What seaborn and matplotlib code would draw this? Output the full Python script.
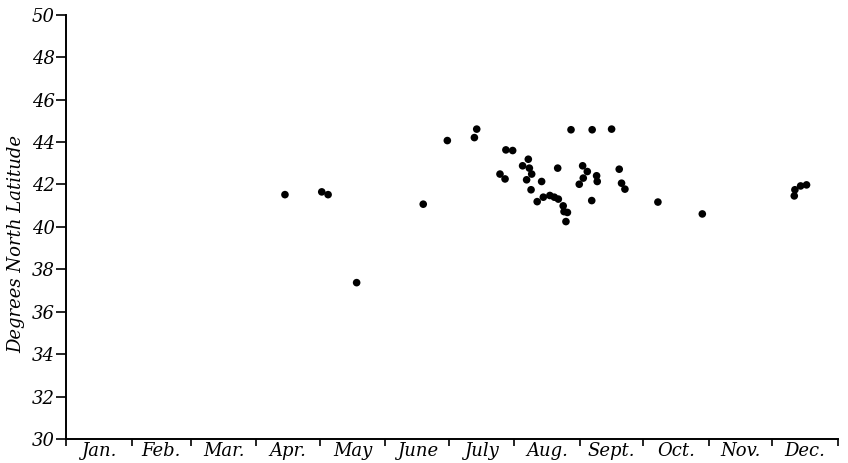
import matplotlib
matplotlib.use('Agg')
import matplotlib.pyplot as plt
import seaborn as sns
import pandas as pd

# day of year (0 = start of Jan 1) and latitude for each observation
days = [103.5, 120.9, 123.9, 137.4, 168.9, 180.3, 194.2, 193.1, 205.2, 207.6,
        208.0, 211.2, 218.6, 215.9, 219.1, 220.2, 217.8, 219.9, 224.9, 232.5,
        222.8, 225.7, 228.8, 230.9, 232.8, 235.1, 235.5, 237.1, 236.4, 238.8,
        244.3, 246.5, 244.6, 242.7, 248.6, 248.8, 250.9, 251.2, 258.0, 261.6,
        262.7, 264.3, 279.9, 300.9, 344.4, 344.7, 347.4, 350.2]
lats = [41.52, 41.65, 41.52, 37.37, 41.07, 44.07, 44.61, 44.21, 42.49, 42.26,
        43.63, 43.60, 43.19, 42.88, 42.77, 42.49, 42.22, 41.75, 42.14, 42.77,
        41.19, 41.40, 41.48, 41.40, 41.31, 40.99, 40.72, 40.68, 40.25, 44.58,
        42.88, 42.61, 42.30, 42.01, 41.24, 44.58, 42.41, 42.14, 44.61, 42.72,
        42.06, 41.78, 41.17, 40.61, 41.46, 41.75, 41.93, 41.98]

months = ['Jan.', 'Feb.', 'Mar.', 'Apr.', 'May', 'June', 'July', 'Aug.',
          'Sept.', 'Oct.', 'Nov.', 'Dec.']
month_starts = [0, 31, 59, 90, 120, 151, 181, 212, 243, 273, 304, 334, 365]
yticks = [30, 32, 34, 36, 38, 40, 42, 44, 46, 48, 50]

df = pd.DataFrame({'day': days, 'lat': lats})

sns.set_style('ticks')
plt.rcParams['font.family'] = ['DejaVu Serif']
plt.rcParams['font.style'] = 'italic'

fig = plt.figure(figsize=(8.48, 4.63), dpi=100)
ax = fig.add_axes([0.078, 0.052, 0.91, 0.916])

sns.scatterplot(data=df, x='day', y='lat', color='black', s=30,
                edgecolor='none', ax=ax)

ax.set_xlim(0, 365)
ax.set_ylim(30, 50)

# month boundaries as major ticks, names centred in between
ax.set_xticks(month_starts)
ax.set_xticklabels([])
centers = [(month_starts[i] + month_starts[i + 1]) / 2 for i in range(12)]
ax.set_xticks(centers, minor=True)
ax.set_xticklabels(months, minor=True, fontsize=13, style='italic', color='black')
ax.tick_params(axis='x', which='major', length=5, width=1.2, direction='out',
               color='black')
ax.tick_params(axis='x', which='minor', length=0, pad=2)

ax.set_yticks(yticks)
ax.set_yticklabels([str(v) for v in yticks], fontsize=13, style='italic',
                   color='black')
ax.tick_params(axis='y', length=7, width=1.2, direction='out', pad=1,
               color='black')

ax.set_xlabel('')
ax.set_ylabel('Degrees North Latitude', fontsize=13, style='italic',
              color='black')
ax.yaxis.set_label_coords(-0.053, 0.46)

sns.despine(ax=ax, top=True, right=True)
for s in ['left', 'bottom']:
    ax.spines[s].set_linewidth(1.4)
    ax.spines[s].set_color('black')

plt.savefig('out.png', dpi=100)
